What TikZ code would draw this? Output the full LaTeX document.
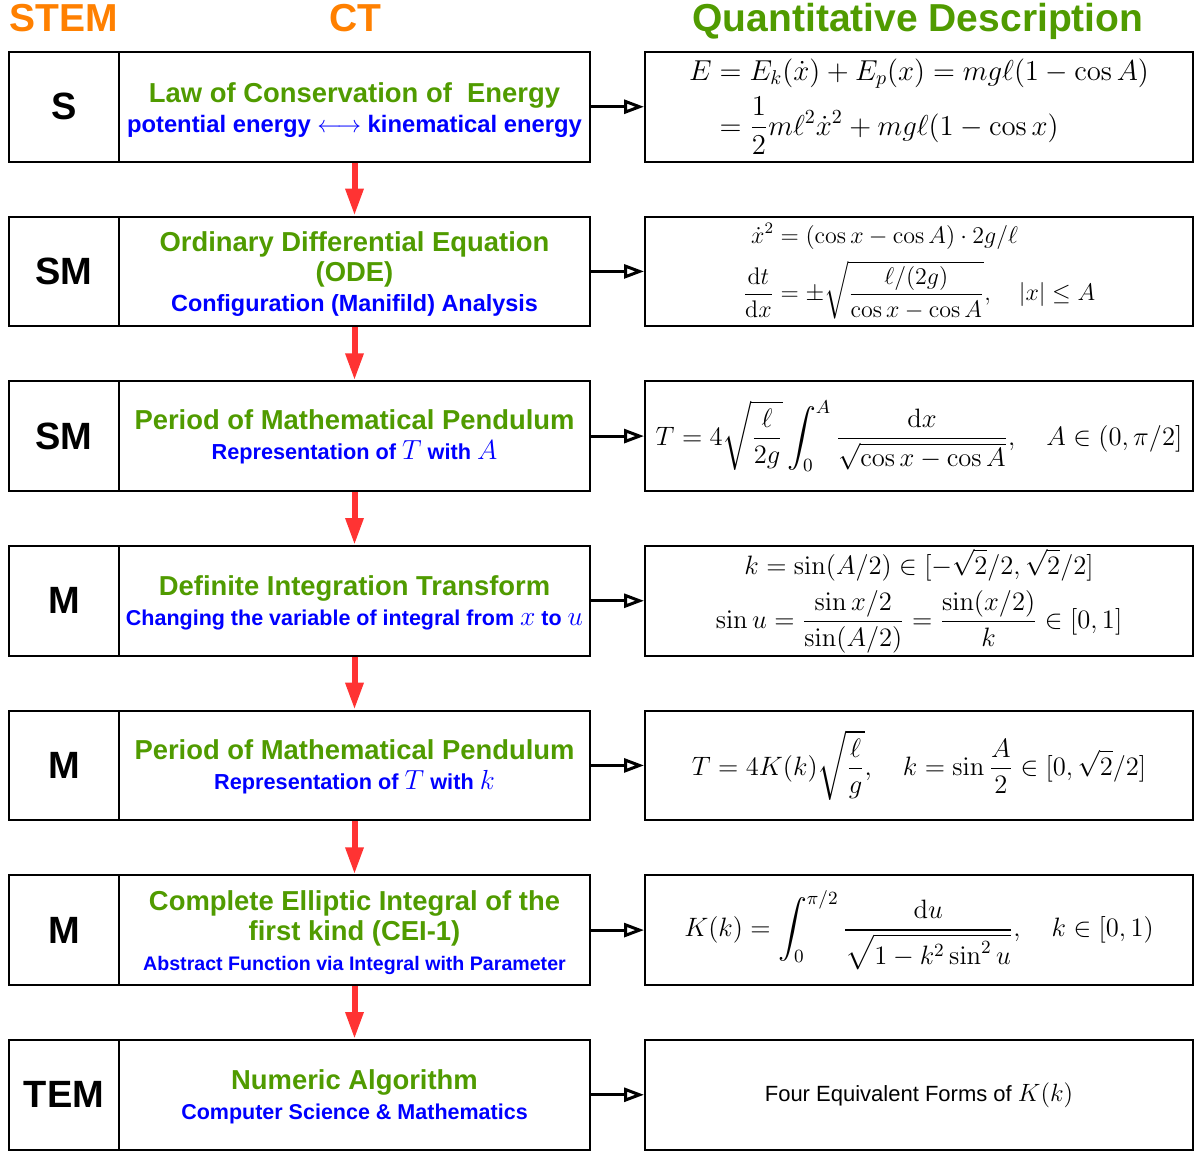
\RequirePackage{fix-cm}
\documentclass[tikz,border=0pt]{standalone}
\usepackage{amsmath}
\usepackage[no-math]{fontspec}
\setmainfont{Liberation Sans}
\usetikzlibrary{arrows.meta}
\definecolor{ctgreen}{RGB}{80,155,0}
\definecolor{hdorange}{RGB}{255,128,0}
\definecolor{redarrow}{RGB}{255,51,51}
\definecolor{subblue}{RGB}{0,0,255}
\newcommand\cttitle{\fontsize{13.7}{15}\selectfont\color{ctgreen}}
\newcommand\ctsub[1]{\fontsize{#1}{15}\selectfont\color{subblue}}
\newcommand\mathsize[1]{\fontsize{#1}{#1}\selectfont}
\newcommand\submath[1]{{\fontsize{13.8}{15}\selectfont$#1$}}
\begin{document}
\begin{tikzpicture}[x=0.5pt,y=-0.5pt,
  cell/.style={draw=black, line width=1pt, inner sep=0pt, minimum height=54.75pt},
  stembox/.style={cell, minimum width=55pt, font=\bfseries\fontsize{19}{22}\selectfont},
  ctbox/.style={cell, minimum width=235.5pt, align=center, font=\bfseries\fontsize{13.7}{15}\selectfont},
  qdbox/.style={cell, minimum width=274pt},
  down/.style={draw=redarrow, line width=3pt, -{Triangle[length=13.5pt,width=8.5pt]}},
  toqd/.style={draw=black, line width=1.5pt, -{Triangle[open,length=10pt,width=7pt]}},
  hd/.style={font=\bfseries\fontsize{19.5}{22}\selectfont, anchor=base, inner sep=0pt}
]
\useasboundingbox (0,0) rectangle (1195,1151);

% headers
\node[hd, text=hdorange, anchor=base west] (hstem) at (9,32) {STEM};
\node[hd, text=hdorange] (hct) at (355,32) {CT};
\node[hd, text=ctgreen] (hqd) at (918,32) {Quantitative Description};

% row 1
\node[stembox] (l1) at (64,106.75) {S};
\node[ctbox] (c1) at (354.5,106.75) {{\cttitle\rule{0pt}{13.5pt}Law of Conservation of\ \ Energy}\\{\ctsub{11.9}potential energy $\longleftrightarrow$ kinematical energy}};
\node[qdbox, font=\mathsize{14.4}] (q1) at (919,106.75) {$\begin{aligned} E &= E_k(\dot x)+E_p(x) = mg\ell(1-\cos A)\\ &= \frac{1}{2}m\ell^2\dot x^2 + mg\ell(1-\cos x)\end{aligned}$};

% row 2
\node[stembox] (l2) at (64,271.42) {SM};
\node[ctbox] (c2) at (354.5,271.42) {{\cttitle\rule{0pt}{12.5pt}Ordinary Differential Equation}\\{\cttitle (ODE)}\\{\ctsub{11.7}Configuration (Manifild) Analysis}};
\node[qdbox, font=\mathsize{12}] (q2) at (919,271.42) {$\begin{aligned} \dot x^2 &= (\cos x-\cos A)\cdot 2g/\ell\\[1pt] \frac{\mathrm{d}t}{\mathrm{d}x} &= \pm\sqrt{\frac{\ell/(2g)}{\cos x-\cos A}},\quad |x|\le A\end{aligned}$};

% row 3
\node[stembox] (l3) at (64,436.09) {SM};
\node[ctbox] (c3) at (354.5,436.09) {{\cttitle\rule{0pt}{11pt}Period of Mathematical Pendulum}\\{\ctsub{10.85}Representation of \submath{T} with \submath{A}}};
\node[qdbox, font=\mathsize{13.3}] (q3) at (919,436.09) {$\displaystyle T = 4\sqrt{\frac{\ell}{2g}}\int_0^A \frac{\mathrm{d}x}{\sqrt{\cos x-\cos A}},\quad A\in(0,\pi/2]$};

% row 4
\node[stembox] (l4) at (64,600.76) {M};
\node[ctbox] (c4) at (354.5,600.76) {{\cttitle\rule{0pt}{12pt}Definite Integration Transform}\\{\ctsub{10.75}Changing the variable of integral from \submath{x} to \submath{u}}};
\node[qdbox, font=\mathsize{13.3}] (q4) at (919,600.76) {$\begin{gathered} k = \sin(A/2)\in[-\sqrt{2}/2,\sqrt{2}/2]\\ \sin u = \frac{\sin x/2}{\sin(A/2)} = \frac{\sin(x/2)}{k}\in[0,1]\end{gathered}$};

% row 5
\node[stembox] (l5) at (64,765.43) {M};
\node[ctbox] (c5) at (354.5,765.43) {{\cttitle\rule{0pt}{11pt}Period of Mathematical Pendulum}\\{\ctsub{10.85}Representation of \submath{T} with \submath{k}}};
\node[qdbox, font=\mathsize{13.3}] (q5) at (919,765.43) {$\displaystyle T = 4K(k)\sqrt{\frac{\ell}{g}},\quad k=\sin\frac{A}{2}\in[0,\sqrt{2}/2]$};

% row 6
\node[stembox] (l6) at (64,930.1) {M};
\node[ctbox] (c6) at (354.5,930.1) {{\cttitle\rule{0pt}{12pt}Complete Elliptic Integral of the}\\{\cttitle first kind (CEI-1)}\\{\ctsub{9.8}Abstract Function via Integral with Parameter}};
\node[qdbox, font=\mathsize{13.3}] (q6) at (919,930.1) {$\displaystyle K(k)=\int_0^{\pi/2}\frac{\mathrm{d}u}{\sqrt{1-k^2\sin^2 u}},\quad k\in[0,1)$};

% row 7
\node[stembox] (l7) at (64,1094.77) {TEM};
\node[ctbox] (c7) at (354.5,1094.77) {{\cttitle\rule{0pt}{12pt}Numeric Algorithm}\\{\ctsub{10.75}Computer Science \& Mathematics}};
\node[qdbox, font=\fontsize{11}{13}\selectfont] (q7) at (919,1094.77) {Four Equivalent Forms of {\fontsize{12.5}{13}\selectfont$K(k)$}};

% connectors
\foreach \i/\j in {1/2,2/3,3/4,4/5,5/6,6/7}{
  \draw[down] (c\i.south) -- (c\j.north);
}
\foreach \i in {1,...,7}{
  \draw[toqd] (c\i.east) -- (q\i.west);
}
\end{tikzpicture}
\end{document}
